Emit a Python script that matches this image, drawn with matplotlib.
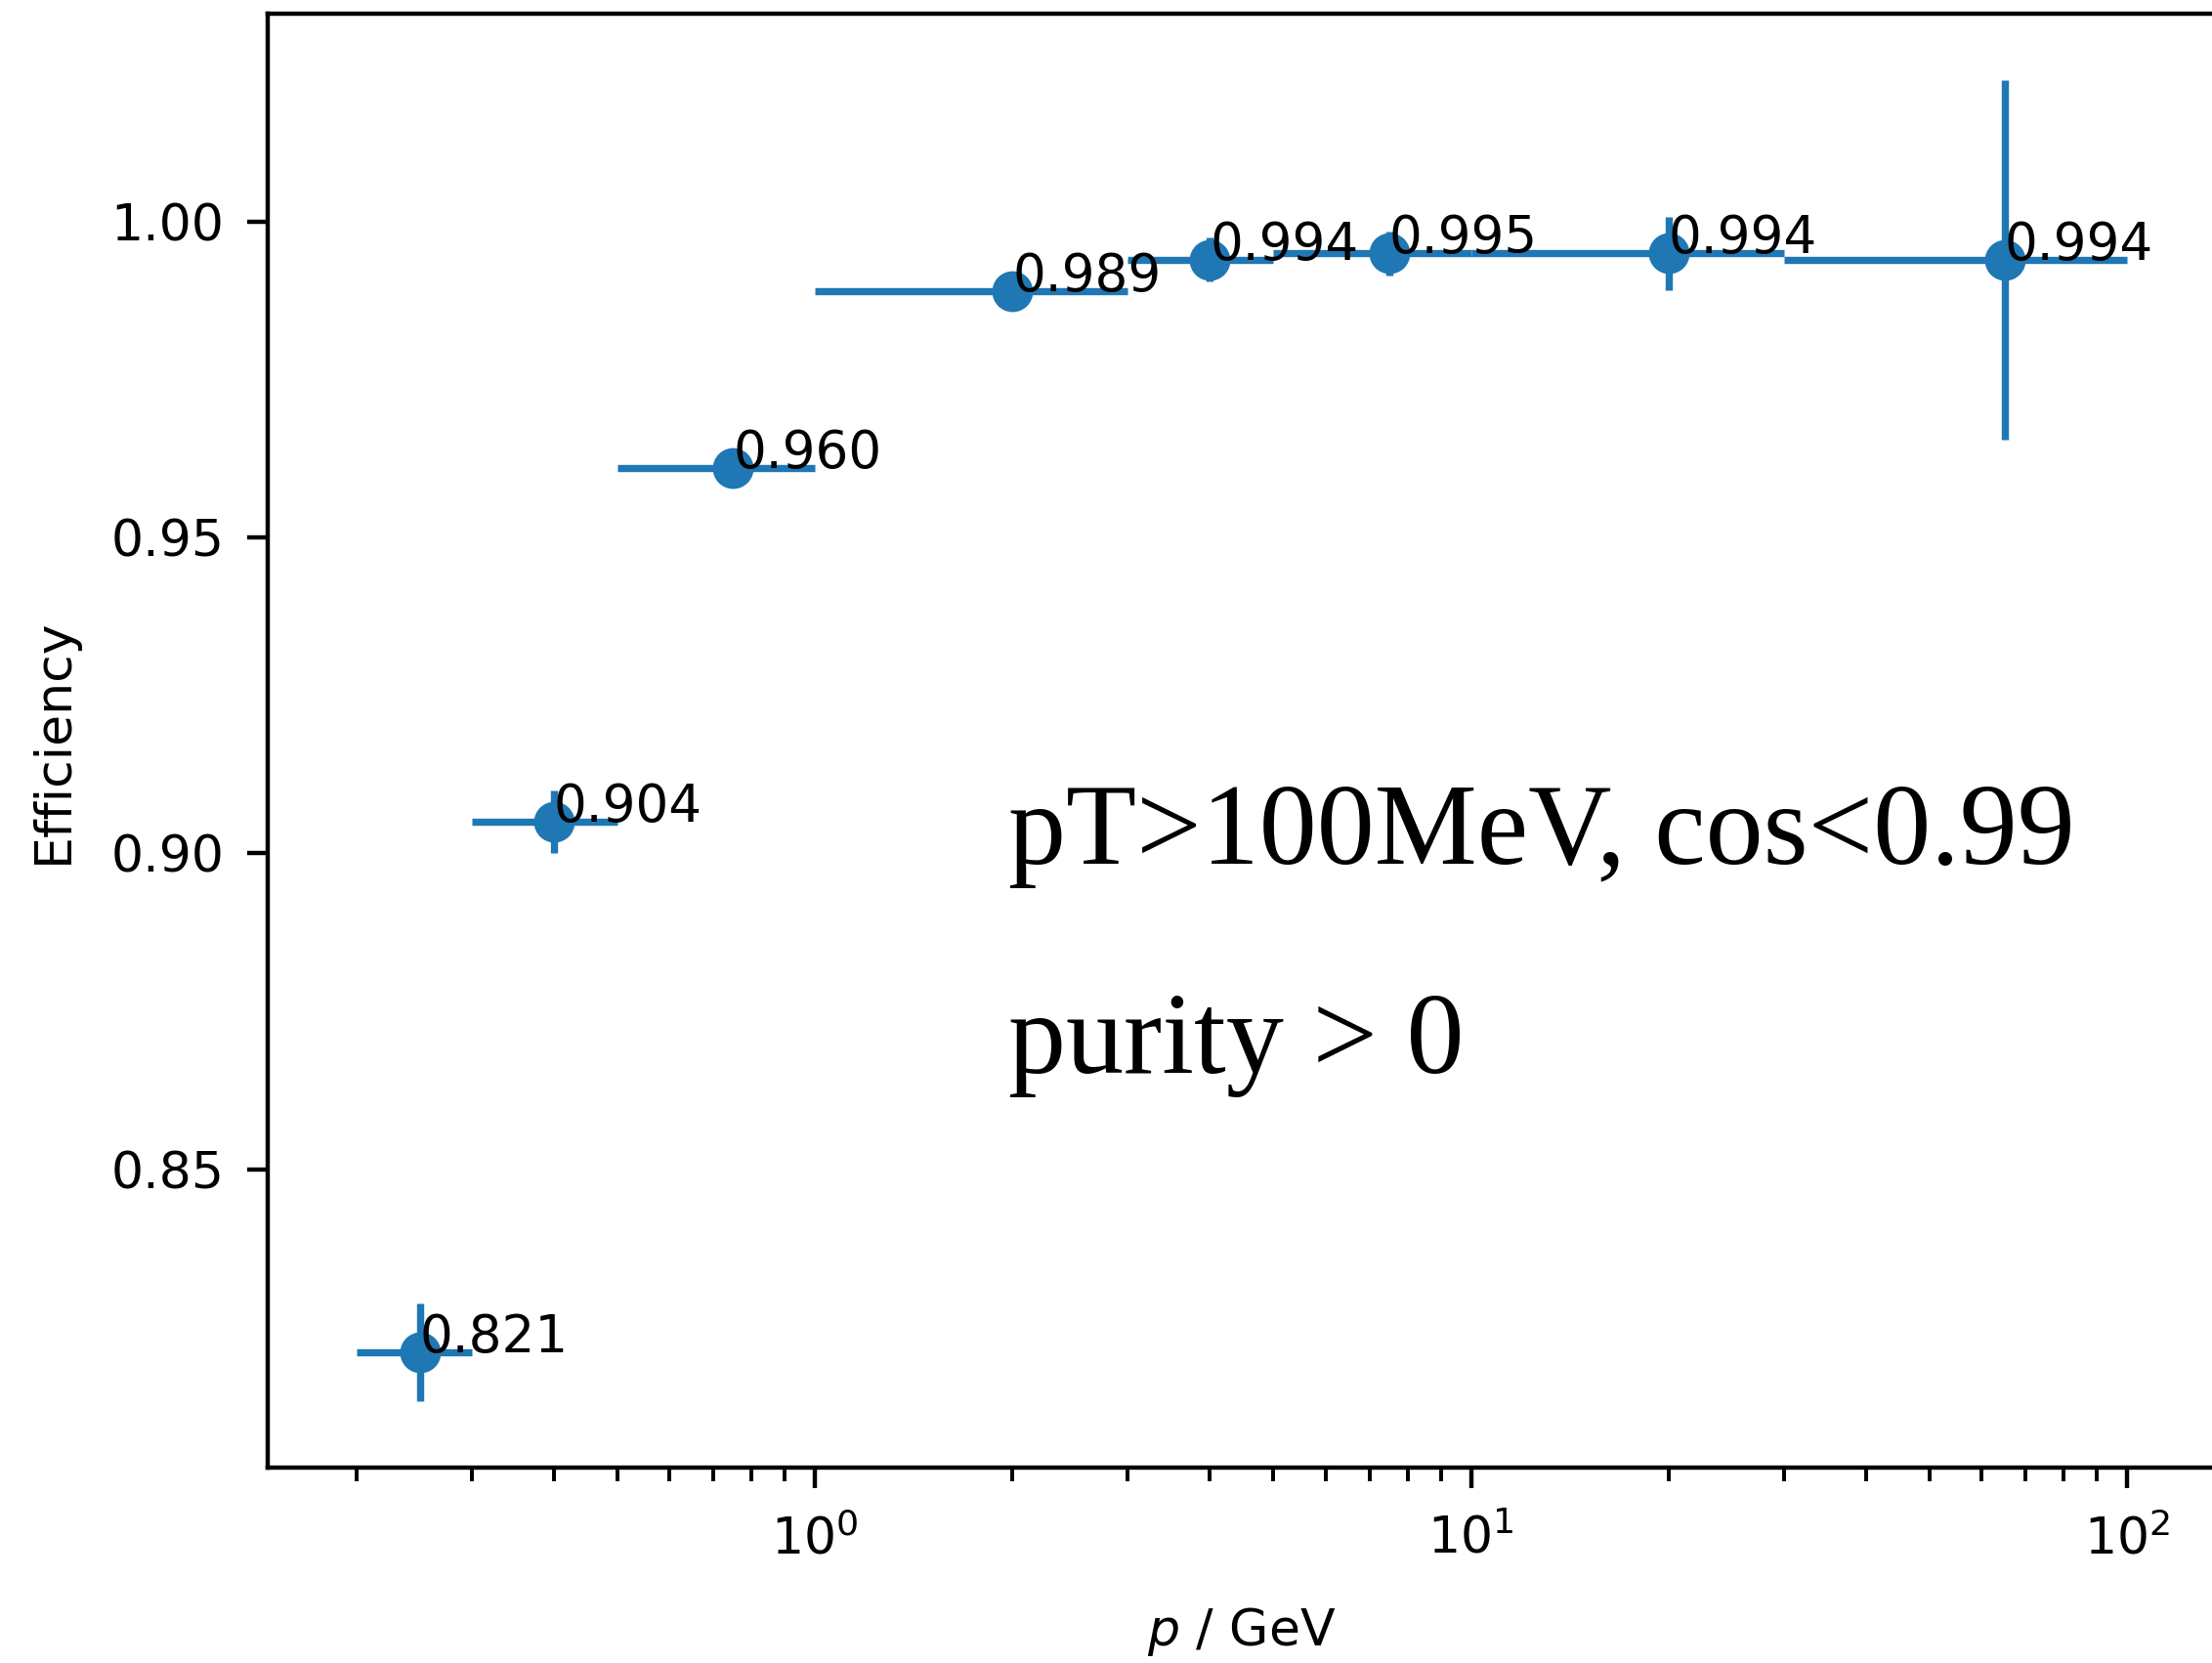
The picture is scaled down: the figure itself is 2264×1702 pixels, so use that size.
import numpy as np
import matplotlib
matplotlib.use("Agg")
import matplotlib.pyplot as plt

# bin edges in p (GeV) and efficiency per bin
bin_lo = [0.2, 0.3, 0.5, 1.0, 3.0, 5.0, 10.0, 30.0]
bin_hi = [0.3, 0.5, 1.0, 3.0, 5.0, 10.0, 30.0, 100.0]
p_center = [0.25, 0.4, 0.75, 2.0, 4.0, 7.5, 20.0, 65.0]
efficiency = [0.821, 0.905, 0.961, 0.989, 0.994, 0.995, 0.995, 0.994]
eff_labels = ["0.821", "0.904", "0.960", "0.989", "0.994", "0.995", "0.994", "0.994"]
eff_err = [0.0078, 0.0050, 0.0030, 0.0015, 0.0035, 0.0035, 0.0058, 0.0285]

dpi = 354
fig = plt.figure(figsize=(2264 / dpi, 1702 / dpi), dpi=dpi)
ax = fig.add_axes([0.121, 0.1175, 0.8807, 0.8743])

x = np.array(p_center)
xerr = [x - np.array(bin_lo), np.array(bin_hi) - x]
ax.errorbar(x, efficiency, xerr=xerr, yerr=eff_err, fmt='o', color='#1f77b4',
            markersize=7.5, linewidth=1.5)
ax.set_xscale('log')

for xi, yi, lab in zip(p_center, efficiency, eff_labels):
    ax.text(xi, yi, lab, fontsize=10.8)

ax.set_xlabel(r"$p$ / GeV", fontsize=10.6, labelpad=8.5)
ax.set_ylabel("Efficiency", fontsize=10.6, labelpad=6.8)
ax.tick_params(which='major', labelsize=10.6, length=4.3, width=0.9)
ax.tick_params(axis='x', which='major', pad=5.6)
ax.tick_params(axis='y', which='major', pad=4.8)
ax.tick_params(which='minor', length=2.8, width=0.8)
for s in ax.spines.values():
    s.set_linewidth(0.9)

ax.text(1.97, 0.8983, "pT>100MeV, cos<0.99", fontsize=24, family='Liberation Serif')
ax.text(1.97, 0.8652, "purity > 0", fontsize=24, family='Liberation Serif')

fig.savefig("out.png", dpi=dpi)
